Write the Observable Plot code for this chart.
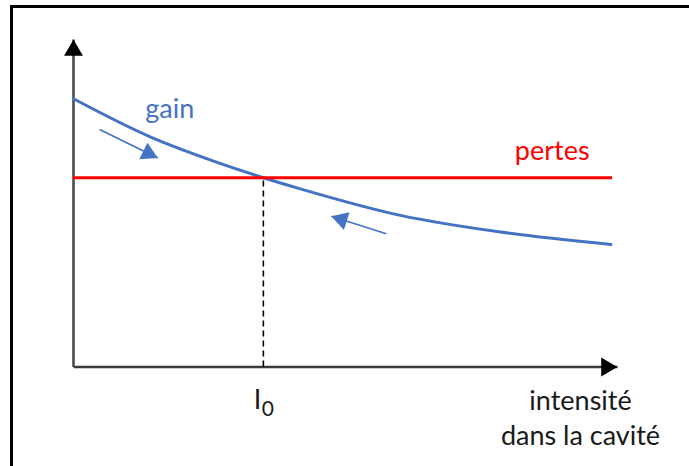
<!DOCTYPE html>
<html>
<head>
<meta charset="utf-8">
<script src="https://cdn.jsdelivr.net/npm/d3@7"></script>
<script src="https://cdn.jsdelivr.net/npm/@observablehq/plot@0.6"></script>
<style>
  html, body { margin: 0; padding: 0; background: #fff; overflow: hidden; }
  #wrap { position: relative; width: 689px; height: 466px; }
  #frame { position: absolute; left: 10px; top: 5px; width: 1000px; height: 1000px;
           border: 3px solid #000; pointer-events: none; }
</style>
</head>
<body>
<div id="wrap"><div id="frame"></div></div>
<script>
// ---- data (arbitrary units) ----
const intensite = [0, 14.2, 26.4, 34.9, 41.7, 60.1, 78.5, 98.8];
const gain      = [81.9, 70.2, 62.5, 57.8, 54.4, 46.3, 41.2, 37.4];
const pertes = 57.8;
const pertesEnd = 99.1;
const I0 = 34.9;
const axisMax = 100;
// direction arrows along the gain curve: start (x1,y1) -> tip (x2,y2)
const arrowX1 = [4.8, 57.5];
const arrowY1 = [72.5, 40.7];
const arrowX2 = [15.5, 47.4];
const arrowY2 = [63.8, 46.0];
// labels
const labelGain = {text: "gain", x: 17.7, y: 75.9};
const labelPertes = {text: "pertes", x: 88.0, y: 63.3};
const labelAxis = {text: "intensité\ndans la cavité", x: 93.2};

const blue = "#4472C4";
const font = "Lato";
const fs = 27;

const xScale = {domain: [0, axisMax], range: [73, 617]};
const yScale = {domain: [0, axisMax], range: [366.5, 39]};
const sx = Plot.scale({x: xScale});
const sy = Plot.scale({y: yScale});

const gainData = intensite.map((x, i) => ({x, y: gain[i]}));
const arrows = arrowX1.map((_, i) => ({x1: arrowX1[i], y1: arrowY1[i], x2: arrowX2[i], y2: arrowY2[i]}));

const r = 6.9;                       // triangle "radius"
const k = r * Math.sqrt(Math.PI / (3 * Math.sqrt(3))); // d3 triangle unit
const kAxis = 7 * Math.sqrt(Math.PI / (3 * Math.sqrt(3)));

const headMarks = arrows.map(a => {
  const px1 = sx.apply(a.x1), py1 = sy.apply(a.y1);
  const px2 = sx.apply(a.x2), py2 = sy.apply(a.y2);
  const L = Math.hypot(px2 - px1, py2 - py1);
  const ux = (px2 - px1) / L, uy = (py2 - py1) / L;
  const rot = Math.atan2(ux, -uy) * 180 / Math.PI;
  return Plot.dot([a], {x: "x2", y: "y2", symbol: "triangle", r, fill: blue, stroke: "none",
    rotate: rot, dx: -ux * 2 * k, dy: -uy * 2 * k});
});

const chart = Plot.plot({
  width: 689,
  height: 466,
  x: {...xScale, axis: null},
  y: {...yScale, axis: null},
  style: {background: "transparent", fontFamily: font},
  marks: [
    // axes
    Plot.link([{x1: 0, y1: 0, x2: axisMax, y2: 0}], {x1: "x1", y1: "y1", x2: "x2", y2: "y2", stroke: "#3a3a3a", strokeWidth: 2.6, strokeLinecap: "butt"}),
    Plot.link([{x1: 0, y1: 0, x2: 0, y2: axisMax}], {x1: "x1", y1: "y1", x2: "x2", y2: "y2", stroke: "#4a4a4a", strokeWidth: 2.6, strokeLinecap: "butt"}),
    Plot.dot([{x: 0, y: axisMax}], {x: "x", y: "y", symbol: "triangle", r: 7, fill: "black", stroke: "none", dy: 2 * kAxis}),
    Plot.dot([{x: axisMax, y: 0}], {x: "x", y: "y", symbol: "triangle", r: 7, fill: "black", stroke: "none", rotate: 90, dx: -2 * kAxis}),
    // dashed guide at I0
    Plot.ruleX([I0], {y1: 0, y2: pertes, stroke: "black", strokeWidth: 1.6, strokeDasharray: "6,4"}),
    // gain curve
    Plot.line(gainData, {x: "x", y: "y", curve: "monotone-x", stroke: blue, strokeWidth: 3}),
    // losses
    Plot.ruleY([pertes], {x1: 0, x2: pertesEnd, stroke: "#FF0000", strokeWidth: 3}),
    // direction arrows
    Plot.link(arrows, {x1: "x1", y1: "y1", x2: "x2", y2: "y2", stroke: blue, strokeWidth: 1.6, strokeLinecap: "butt"}),
    ...headMarks,
    // labels
    Plot.text([labelGain], {x: "x", y: "y", text: "text", fill: blue, fontSize: fs, fontFamily: font, lineAnchor: "bottom", textAnchor: "middle"}),
    Plot.text([labelPertes], {x: "x", y: "y", text: "text", fill: "#FF0000", fontSize: fs, fontFamily: font, lineAnchor: "bottom", textAnchor: "middle"}),
    Plot.text([{x: I0, y: 0, t: "I"}], {x: "x", y: "y", text: "t", fill: "#1a1a1a", fontSize: fs, fontFamily: font, lineAnchor: "bottom", textAnchor: "end", dx: -2, dy: 41.5}),
    Plot.text([{x: I0, y: 0, t: "0"}], {x: "x", y: "y", text: "t", fill: "#1a1a1a", fontSize: 21, fontFamily: font, lineAnchor: "bottom", textAnchor: "start", dx: -1.5, dy: 48.5}),
    Plot.text([{x: labelAxis.x, y: 0, t: labelAxis.text}], {x: "x", y: "y", text: "t", fill: "#1a1a1a", fontSize: fs, fontFamily: font, lineAnchor: "top", textAnchor: "middle", lineHeight: 1.27, dy: 19})
  ]
});
document.getElementById("wrap").prepend(chart);
</script>
</body>
</html>
